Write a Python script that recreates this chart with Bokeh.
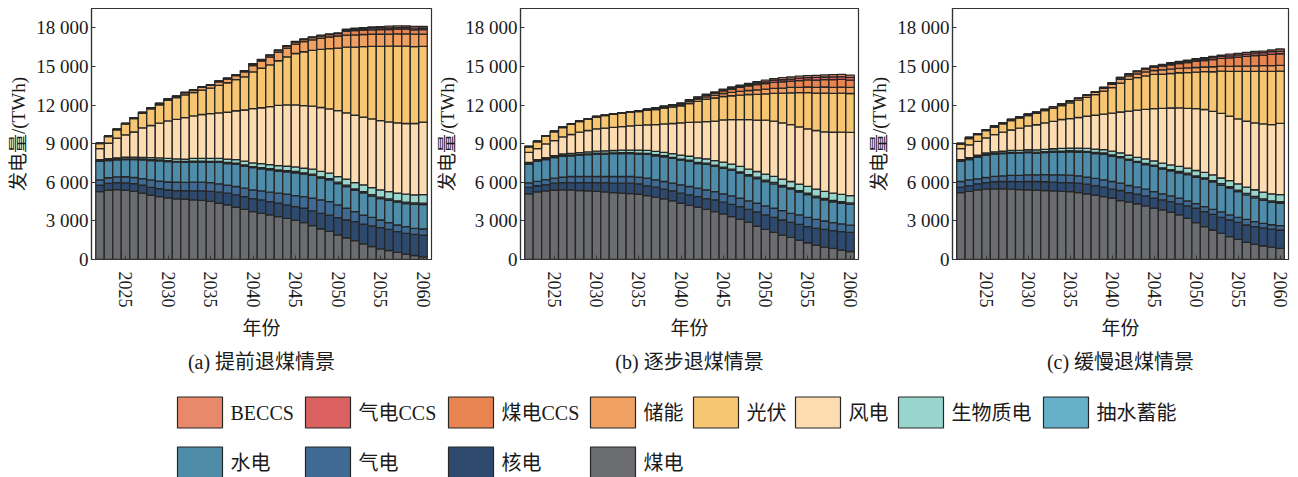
from bokeh.plotting import figure
from bokeh.layouts import row, column
from bokeh.models import Range1d, FixedTicker, Title, ColumnDataSource
from bokeh.embed import file_html
from bokeh.resources import INLINE
from bokeh.core.properties import value

years = list(range(2022, 2061))

# Stack order, bottom to top
keys = ["coal", "nuclear", "gas", "hydro", "pumped", "bio",
        "wind", "solar", "storage", "coal_ccs", "gas_ccs", "beccs"]
names = {"coal": "煤电", "nuclear": "核电", "gas": "气电", "hydro": "水电",
         "pumped": "抽水蓄能", "bio": "生物质电", "wind": "风电", "solar": "光伏",
         "storage": "储能", "coal_ccs": "煤电CCS", "gas_ccs": "气电CCS", "beccs": "BECCS"}
colors = {"coal": "#6b6c70", "nuclear": "#2d4a6e", "gas": "#3e6a93", "hydro": "#4f8ca9",
          "pumped": "#67b0c9", "bio": "#98d5cc", "wind": "#fddcb1", "solar": "#f7c672",
          "storage": "#f0a061", "coal_ccs": "#e8844f", "gas_ccs": "#db6260", "beccs": "#e8896b"}

# ---- (a) early coal phase-out, TWh ----
coal_a = [5280, 5380, 5430, 5380, 5300, 5150, 4990, 4890, 4780, 4710, 4680, 4630, 4600, 4520, 4370, 4240, 4060, 3900, 3720, 3590,
          3460, 3330, 3200, 3040, 2860, 2630, 2390, 2180, 1920, 1690, 1460, 1220, 1010, 830, 700, 550, 420, 310, 210]
nuclear_a = [490, 530, 550, 580, 600, 620, 620, 620, 620, 640, 660, 700, 730, 780, 860, 910, 960, 990, 1010, 1040,
             1040, 1040, 1040, 1070, 1120, 1140, 1200, 1270, 1330, 1380, 1480, 1530, 1610, 1640, 1640, 1610, 1610, 1640, 1690]
gas_a = [420, 440, 440, 470, 470, 520, 570, 570, 620, 650, 650, 680, 680, 680, 650, 620, 650, 650, 680, 700,
         730, 780, 830, 860, 910, 990, 1040, 1040, 990, 910, 780, 700, 650, 600, 520, 520, 520, 470, 470]
hydro_a = [1430, 1330, 1330, 1330, 1400, 1460, 1510, 1590, 1590, 1560, 1560, 1560, 1560, 1560, 1660, 1690, 1740, 1720, 1720, 1720,
           1740, 1720, 1740, 1770, 1740, 1770, 1690, 1690, 1660, 1690, 1660, 1720, 1660, 1660, 1740, 1770, 1790, 1870, 1900]
pumped_a = [50, 50, 50, 55, 55, 60, 60, 60, 65, 70, 70, 75, 75, 80, 80, 80, 85, 85, 85, 90,
            90, 90, 95, 95, 100, 100, 100, 105, 105, 105, 105, 110, 110, 110, 110, 110, 115, 115, 115]
bio_a = [80, 100, 100, 130, 130, 130, 160, 160, 180, 180, 180, 210, 210, 230, 230, 260, 260, 290, 290, 310,
         310, 340, 340, 360, 360, 390, 420, 420, 440, 470, 490, 520, 550, 570, 570, 600, 620, 620, 650]
wind_a = [860, 1200, 1530, 1740, 1950, 2290, 2500, 2700, 2910, 3070, 3220, 3300, 3410, 3480, 3540, 3640, 3800, 3980, 4210, 4340,
          4500, 4680, 4760, 4810, 4860, 4890, 4970, 4990, 5120, 5150, 5230, 5250, 5330, 5380, 5410, 5460, 5490, 5540, 5640]
solar_a = [390, 520, 650, 830, 1040, 1120, 1300, 1430, 1590, 1690, 1770, 1820, 1900, 1980, 2130, 2290, 2420, 2570, 2860, 3070,
           3250, 3460, 3740, 4000, 4190, 4340, 4520, 4680, 4860, 5100, 5300, 5490, 5640, 5770, 5880, 5950, 6010, 5980, 5880]
storage_a = [40, 50, 50, 60, 70, 80, 80, 100, 120, 130, 160, 180, 210, 230, 290, 290, 310, 390, 490, 550,
             600, 650, 680, 730, 780, 810, 860, 910, 940, 940, 940, 940, 940, 940, 940, 960, 960, 960, 960]
coal_ccs_a = [0, 0, 0, 0, 0, 0, 0, 0, 0, 0, 30, 30, 30, 50, 50, 50, 50, 80, 100, 100,
              130, 130, 130, 160, 160, 180, 180, 180, 180, 310, 340, 340, 340, 360, 360, 360, 360, 340, 340]
gas_ccs_a = [0, 0, 0, 0, 0, 0, 0, 0, 0, 0, 0, 0, 0, 0, 20, 20, 20, 25, 25, 25,
             25, 30, 30, 30, 30, 30, 30, 30, 30, 80, 100, 100, 130, 130, 130, 130, 130, 130, 130]
beccs_a = [0, 0, 0, 0, 0, 0, 0, 0, 0, 0, 0, 0, 0, 0, 0, 0, 0, 0, 20, 20,
           25, 25, 25, 25, 30, 30, 30, 30, 30, 80, 80, 100, 100, 100, 130, 130, 130, 130, 130]

# ---- (b) gradual coal phase-out, TWh ----
coal_b = [5100, 5250, 5330, 5380, 5410, 5410, 5360, 5330, 5300, 5250, 5200, 5150, 5120, 5070, 4970, 4840, 4710, 4550, 4370, 4210,
          4060, 3900, 3720, 3540, 3330, 3120, 2890, 2600, 2340, 2110, 1900, 1720, 1510, 1300, 1120, 960, 860, 730, 620]
nuclear_b = [500, 480, 480, 550, 570, 570, 620, 650, 680, 730, 730, 780, 810, 810, 750, 780, 750, 780, 780, 810,
             830, 830, 910, 910, 960, 990, 1010, 1090, 1120, 1170, 1170, 1170, 1220, 1250, 1300, 1380, 1380, 1430, 1480]
gas_b = [360, 340, 390, 390, 420, 470, 470, 470, 470, 470, 520, 520, 520, 520, 600, 570, 600, 600, 650, 650,
         650, 680, 650, 650, 650, 650, 650, 680, 700, 700, 730, 700, 730, 730, 700, 650, 620, 600, 570]
hydro_b = [1460, 1560, 1560, 1590, 1610, 1610, 1660, 1690, 1740, 1740, 1770, 1770, 1770, 1790, 1850, 1870, 1920, 1920, 1920, 1950,
           1920, 1980, 1950, 1980, 1980, 1950, 1950, 1920, 1900, 1900, 1850, 1870, 1770, 1770, 1690, 1640, 1610, 1610, 1610]
pumped_b = [50, 50, 50, 55, 55, 60, 60, 60, 65, 70, 70, 75, 75, 80, 80, 80, 85, 85, 85, 90,
            90, 90, 95, 95, 100, 100, 100, 105, 105, 105, 105, 110, 110, 110, 110, 110, 115, 115, 115]
bio_b = [80, 80, 100, 100, 130, 130, 130, 160, 160, 180, 180, 210, 210, 230, 230, 260, 260, 290, 310, 310,
         340, 340, 360, 390, 390, 420, 420, 440, 470, 470, 490, 490, 520, 520, 550, 550, 570, 570, 570]
wind_b = [780, 860, 1070, 1170, 1330, 1460, 1590, 1660, 1740, 1770, 1790, 1820, 1870, 1920, 1980, 2080, 2210, 2340, 2500, 2630,
          2780, 2890, 3070, 3280, 3460, 3640, 3850, 4000, 4190, 4290, 4370, 4420, 4450, 4470, 4550, 4630, 4730, 4840, 4910]
solar_b = [420, 520, 600, 680, 730, 780, 830, 880, 910, 960, 1010, 1040, 1070, 1070, 1120, 1170, 1220, 1270, 1330, 1460,
           1610, 1740, 1790, 1820, 1850, 1900, 1950, 2000, 2050, 2160, 2310, 2470, 2650, 2810, 2910, 3010, 3020, 3030, 3020]
storage_b = [30, 50, 50, 50, 50, 50, 50, 50, 50, 50, 50, 50, 50, 80, 80, 100, 100, 130, 130, 160,
             180, 180, 210, 230, 260, 290, 310, 340, 360, 390, 390, 420, 420, 440, 440, 470, 470, 470, 470]
coal_ccs_b = [0, 0, 0, 0, 0, 0, 0, 0, 0, 0, 0, 0, 0, 0, 30, 30, 30, 30, 50, 80,
              100, 130, 160, 210, 260, 310, 360, 420, 440, 470, 490, 490, 520, 550, 570, 570, 600, 600, 570]
gas_ccs_b = [0, 0, 0, 0, 0, 0, 0, 0, 0, 0, 0, 0, 0, 0, 0, 0, 30, 30, 30, 30,
             50, 50, 50, 80, 80, 100, 100, 130, 130, 160, 160, 160, 180, 180, 210, 210, 210, 210, 210]
beccs_b = [0, 0, 0, 0, 0, 0, 0, 0, 0, 0, 0, 0, 0, 0, 0, 0, 0, 0, 0, 30,
           30, 30, 50, 50, 80, 80, 100, 100, 130, 130, 160, 160, 160, 160, 160, 160, 180, 180, 180]

# ---- (c) slow coal phase-out, TWh ----
coal_c = [5200, 5300, 5410, 5460, 5490, 5490, 5460, 5430, 5410, 5380, 5360, 5330, 5300, 5280, 5200, 5100, 4990, 4890, 4760, 4580,
          4450, 4320, 4160, 3980, 3850, 3670, 3460, 3200, 2860, 2550, 2290, 2030, 1770, 1560, 1330, 1170, 1070, 960, 860]
nuclear_c = [420, 440, 470, 520, 550, 570, 600, 620, 650, 680, 680, 680, 680, 700, 730, 750, 750, 730, 700, 780,
             750, 750, 780, 780, 780, 830, 860, 960, 1120, 1170, 1220, 1250, 1300, 1330, 1350, 1380, 1380, 1400, 1430]
gas_c = [440, 440, 390, 390, 420, 440, 470, 490, 520, 520, 550, 570, 600, 570, 570, 550, 570, 570, 600, 570,
         550, 550, 520, 520, 470, 440, 440, 390, 360, 390, 390, 420, 390, 390, 440, 390, 360, 340, 340]
hydro_c = [1560, 1590, 1690, 1720, 1720, 1720, 1720, 1720, 1720, 1690, 1720, 1770, 1770, 1820, 1850, 1920, 1920, 2000, 1980, 1980,
           1950, 1920, 1920, 1950, 1920, 1950, 1980, 2050, 2050, 2130, 2130, 2080, 2080, 2000, 1900, 1850, 1790, 1740, 1740]
pumped_c = [50, 50, 50, 55, 55, 60, 60, 60, 65, 70, 70, 75, 75, 80, 80, 80, 85, 85, 85, 90,
            90, 90, 95, 95, 100, 100, 100, 105, 105, 105, 105, 110, 110, 110, 110, 110, 115, 115, 115]
bio_c = [80, 100, 100, 130, 130, 130, 160, 160, 160, 180, 180, 180, 210, 210, 230, 230, 260, 260, 290, 290,
         310, 310, 340, 340, 360, 360, 390, 390, 420, 420, 440, 440, 470, 490, 490, 520, 520, 550, 550]
wind_c = [860, 990, 1070, 1170, 1330, 1480, 1590, 1720, 1850, 1950, 2050, 2130, 2240, 2290, 2370, 2500, 2630, 2760, 2960, 3170,
          3430, 3670, 3850, 4060, 4260, 4420, 4550, 4650, 4810, 4890, 4940, 5020, 5020, 5040, 5120, 5200, 5300, 5380, 5540]
solar_c = [360, 490, 520, 570, 600, 650, 730, 780, 810, 880, 960, 1010, 1090, 1220, 1350, 1460, 1610, 1790, 1980, 2240,
           2470, 2520, 2600, 2650, 2650, 2680, 2730, 2780, 2830, 2940, 3070, 3280, 3480, 3690, 3870, 4000, 4080, 4130, 4060]
storage_c = [50, 80, 80, 80, 80, 80, 100, 100, 100, 100, 100, 130, 130, 130, 130, 160, 180, 210, 260, 290,
             260, 290, 310, 310, 340, 340, 340, 360, 360, 360, 390, 390, 390, 420, 420, 420, 440, 440, 440]
coal_ccs_c = [0, 0, 0, 0, 0, 0, 0, 0, 0, 0, 0, 0, 0, 30, 30, 30, 50, 80, 100, 130,
              130, 180, 210, 260, 290, 340, 360, 420, 470, 490, 550, 600, 650, 700, 750, 810, 830, 880, 910]
gas_ccs_c = [0, 0, 0, 0, 0, 0, 0, 0, 0, 0, 0, 0, 0, 0, 0, 0, 0, 0, 30, 30,
             30, 30, 50, 50, 80, 80, 100, 100, 130, 130, 160, 160, 160, 160, 180, 180, 180, 210, 210]
beccs_c = [0, 0, 0, 0, 0, 0, 0, 0, 0, 0, 0, 0, 0, 0, 0, 0, 0, 0, 0, 0,
           0, 30, 30, 50, 50, 80, 80, 80, 80, 100, 100, 100, 130, 130, 130, 130, 130, 130, 160]

y_ticks = [0, 3000, 6000, 9000, 12000, 15000, 18000]
y_tick_labels = ["0", "3 000", "6 000", "9 000", "12 000", "15 000", "18 000"]
x_ticks = [2025, 2030, 2035, 2040, 2045, 2050, 2055, 2060]

legend_rows = [["beccs", "gas_ccs", "coal_ccs", "storage", "solar", "wind", "bio", "pumped"],
               ["hydro", "gas", "nuclear", "coal"]]

scenarios = [
    ("(a) 提前退煤情景", [coal_a, nuclear_a, gas_a, hydro_a, pumped_a, bio_a, wind_a, solar_a, storage_a, coal_ccs_a, gas_ccs_a, beccs_a]),
    ("(b) 逐步退煤情景", [coal_b, nuclear_b, gas_b, hydro_b, pumped_b, bio_b, wind_b, solar_b, storage_b, coal_ccs_b, gas_ccs_b, beccs_b]),
    ("(c) 缓慢退煤情景", [coal_c, nuclear_c, gas_c, hydro_c, pumped_c, bio_c, wind_c, solar_c, storage_c, coal_ccs_c, gas_ccs_c, beccs_c]),
]

SERIF = "'Liberation Serif', 'Noto Sans CJK SC'"
EDGE = "#262626"
INK = "#1a1a1a"

# (figure width, left border, right border) of each panel
panel_geom = [(434, 91, 3), (432, 84, 8), (432, 82, 10)]

panels = []
for (caption, series), (w, bl, br) in zip(scenarios, panel_geom):
    for s in series:
        assert len(s) == len(years)
    data = {"year": years}
    for k, s in zip(keys, series):
        data[k] = s
    src = ColumnDataSource(data)

    p = figure(width=w, height=385, output_backend="svg", toolbar_location=None,
               x_range=Range1d(2021, 2061), y_range=Range1d(0, 19500),
               min_border_left=bl, min_border_right=br, min_border_top=8, min_border_bottom=126)
    p.vbar_stack(keys, x="year", width=1.0, source=src,
                 fill_color=[colors[k] for k in keys], line_color=EDGE, line_width=1.3)

    p.grid.visible = False
    p.outline_line_color = "#333333"
    p.outline_line_width = 1.2
    p.background_fill_color = "white"
    p.border_fill_color = "white"

    for ax in (p.xaxis[0], p.yaxis[0]):
        ax.axis_line_color = "#333333"
        ax.axis_line_width = 1.2
        ax.major_tick_in = 4
        ax.major_tick_out = 0
        ax.major_tick_line_color = "#333333"
        ax.minor_tick_line_color = None
        ax.major_label_text_font = SERIF
        ax.major_label_text_font_size = "18px"
        ax.major_label_text_color = INK
        ax.axis_label_text_font = SERIF
        ax.axis_label_text_font_style = "normal"
        ax.axis_label_text_font_size = "19px"
        ax.axis_label_text_color = INK

    p.yaxis[0].ticker = FixedTicker(ticks=y_ticks)
    p.yaxis[0].major_label_overrides = {t: lab for t, lab in zip(y_ticks, y_tick_labels)}
    p.yaxis[0].major_label_text_font_size = "19px"
    p.yaxis[0].axis_label = "发电量/(TWh)"
    p.yaxis[0].major_label_standoff = 3
    p.yaxis[0].axis_label_standoff = 4

    p.xaxis[0].ticker = FixedTicker(ticks=x_ticks)
    p.xaxis[0].major_label_orientation = "vertical"
    p.xaxis[0].axis_label = "年份"
    p.xaxis[0].major_label_standoff = 12
    p.xaxis[0].axis_label_standoff = 7

    p.add_layout(Title(text=caption, align="center", text_font=SERIF, text_font_size="20px",
                       text_font_style="normal", text_color=INK, standoff=14), "below")
    panels.append(p)

# legend strip
leg = figure(width=1298, height=92, output_backend="svg", toolbar_location=None,
             x_range=Range1d(0, 1298), y_range=Range1d(92, 0),
             x_axis_location=None, y_axis_location=None, min_border=0)
leg.grid.visible = False
leg.outline_line_color = None

col_left = [177, 305, 448, 590, 693, 795, 898, 1043]
row_mid = [27, 77]
sw_w, sw_h = 45, 31
sx, sy, sc, tx, ty, tt = [], [], [], [], [], []
for r, items in enumerate(legend_rows):
    for c, k in enumerate(items):
        sx.append(col_left[c] + sw_w / 2)
        sy.append(row_mid[r])
        sc.append(colors[k])
        tx.append(col_left[c] + sw_w + 8)
        ty.append(row_mid[r])
        tt.append(names[k])
leg.rect(x=sx, y=sy, width=sw_w, height=sw_h, fill_color=sc, line_color=EDGE, line_width=1.2)
leg.text(x=tx, y=ty, text=tt, text_baseline="middle", text_align="left",
         text_font=value(SERIF), text_font_size="20px", text_color=INK)

layout = column(row(*panels), leg)
open("out.html", "w").write(file_html(layout, INLINE))
